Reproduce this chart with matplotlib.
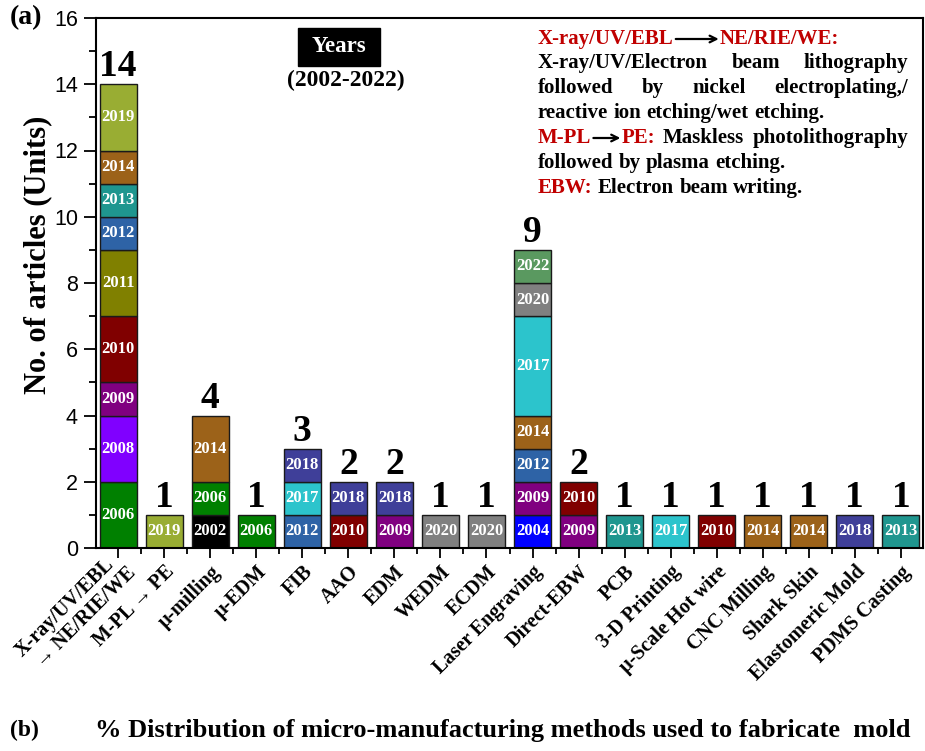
import numpy as np
import matplotlib
matplotlib.use("Agg")
import matplotlib.pyplot as plt
from matplotlib.patches import Rectangle
from matplotlib.ticker import MultipleLocator, FixedLocator

# categories (x axis)
methods = ["X-ray/UV/EBL\n\u2192 NE/RIE/WE", "M-PL \u2192 PE", "\u03bc-milling", "\u03bc-EDM",
           "FIB", "AAO", "EDM", "WEDM", "ECDM", "Laser Engraving", "Direct-EBW", "PCB",
           "3-D Printing", "\u03bc-Scale Hot wire", "CNC Milling", "Shark Skin",
           "Elastomeric Mold", "PDMS Casting"]

# stacked pieces: publication year and number of articles
seg_years = [
    ["2006", "2008", "2009", "2010", "2011", "2012", "2013", "2014", "2019"],
    ["2019"],
    ["2002", "2006", "2014"],
    ["2006"],
    ["2012", "2017", "2018"],
    ["2010", "2018"],
    ["2009", "2018"],
    ["2020"],
    ["2020"],
    ["2004", "2009", "2012", "2014", "2017", "2020", "2022"],
    ["2009", "2010"],
    ["2013"],
    ["2017"],
    ["2010"],
    ["2014"],
    ["2014"],
    ["2018"],
    ["2013"],
]
seg_counts = [
    [2, 2, 1, 2, 2, 1, 1, 1, 2],
    [1],
    [1, 1, 2],
    [1],
    [1, 1, 1],
    [1, 1],
    [1, 1],
    [1],
    [1],
    [1, 1, 1, 1, 3, 1, 1],
    [1, 1],
    [1], [1], [1], [1], [1], [1], [1],
]

year_colors = {
    "2002": "#000000", "2004": "#0000FF", "2006": "#008000", "2008": "#8000FF",
    "2009": "#800080", "2010": "#800000", "2011": "#808000", "2012": "#2E63A6",
    "2013": "#1F968F", "2014": "#9C6219", "2017": "#2CC4CC", "2018": "#3F3F99",
    "2019": "#99AD33", "2020": "#808080", "2022": "#5A9960",
}

SERIF = ["Liberation Serif", "DejaVu Serif"]
W, H = 925, 751

fig = plt.figure(figsize=(9.25, 7.51), dpi=100)
ax = fig.add_axes((96 / W, 1 - 548 / H, 827 / W, 530 / H))

x = np.arange(len(methods))
for i in range(len(methods)):
    bottom = 0
    for yr, c in zip(seg_years[i], seg_counts[i]):
        ax.bar(x[i], c, bottom=bottom, width=0.8, color=year_colors[yr],
               edgecolor="#1a1a1a", linewidth=1.0, zorder=2)
        ax.text(x[i], bottom + c / 2, yr, ha="center", va="center", color="white",
                fontsize=12, fontweight="bold", family=SERIF, zorder=3)
        bottom += c
    ax.annotate(str(bottom), (x[i], bottom), xytext=(0, 0), textcoords="offset points",
                ha="center", va="bottom", fontsize=27, fontweight="bold", family=SERIF)

ax.set_xlim(-0.48, len(methods) - 0.52)
ax.set_ylim(0, 16)
ax.yaxis.set_major_locator(MultipleLocator(2))
ax.yaxis.set_minor_locator(MultipleLocator(1))
ax.xaxis.set_major_locator(FixedLocator(x))
ax.xaxis.set_minor_locator(FixedLocator(x[:-1] + 0.5))
lab_style = dict(fontsize=14.5, fontweight="bold", family=SERIF)
# the two-line first label is drawn by hand below, line by line
ax.set_xticklabels([""] + methods[1:], rotation=45, ha="right", rotation_mode="anchor",
                   **lab_style)
for j, (line, off) in enumerate(zip(methods[0].split("\n"), [(-5, -10), (11, -16)])):
    ax.annotate(line, (x[0], 0), xycoords=("data", "axes fraction"), xytext=off,
                textcoords="offset points", rotation=45, rotation_mode="anchor",
                ha="right", va="center", annotation_clip=False, **lab_style)
for lab in ax.get_yticklabels():
    lab.set_family("Liberation Sans")
ax.tick_params(axis="y", which="major", length=9, width=1.3, labelsize=15.5, pad=4)
ax.tick_params(axis="y", which="minor", length=5, width=1.3)
ax.tick_params(axis="x", which="major", length=7, width=1.3, pad=3)
ax.tick_params(axis="x", which="minor", length=4, width=1.3)
for s in ax.spines.values():
    s.set_linewidth(1.5)
ax.set_ylabel("No. of articles (Units)", fontsize=22, fontweight="bold", family=SERIF)
ax.yaxis.set_label_coords(-0.053, 0.553)


def fx(px):
    return px / W


def fy(py):
    return 1 - py / H


# panel letters and bottom caption
fig.text(fx(10), fy(18), "(a)", fontsize=20, fontweight="bold", family=SERIF, va="center")
fig.text(fx(10), fy(730), "(b)", fontsize=17, fontweight="bold", family=SERIF, va="center")
fig.text(fx(95), fy(730), "% Distribution of micro-manufacturing methods used to fabricate  mold",
         fontsize=19, fontweight="bold", family=SERIF, va="center")

# "Years" box
fig.patches.append(Rectangle((fx(298), fy(66)), 82 / W, 38 / H, transform=fig.transFigure,
                             facecolor="black", edgecolor="black"))
fig.text(fx(339), fy(47), "Years", color="white", fontsize=16.5, fontweight="bold",
         family=SERIF, ha="center", va="center")
fig.text(fx(346), fy(80), "(2002-2022)", fontsize=17, fontweight="bold",
         family=SERIF, ha="center", va="center")

# abbreviations note, justified by hand
RED = "#C00000"
note_fs = 15
renderer = fig.canvas.get_renderer()


def measure(t):
    return t.get_window_extent(renderer).width


def place_line(groups, y, x0=538, x1=908, justify=False):
    # groups: list of groups separated by stretchable spaces;
    # each group is a list of (text, color) or ("ARROW", width_px)
    made = []
    widths = []
    for g in groups:
        items = []
        gw = 0
        for item in g:
            if item[0] == "ARROW":
                items.append(("arrow", item[1], None))
                gw += item[1]
            else:
                t = fig.text(0, fy(y), item[0], color=item[1], fontsize=note_fs,
                             fontweight="bold", family=SERIF, ha="left", va="center")
                w = measure(t)
                items.append(("text", w, t))
                gw += w
        made.append(items)
        widths.append(gw)
    probe = fig.text(0, 0, "a a", fontsize=note_fs, fontweight="bold", family=SERIF)
    probe2 = fig.text(0, 0, "aa", fontsize=note_fs, fontweight="bold", family=SERIF)
    space = measure(probe) - measure(probe2)
    probe.remove()
    probe2.remove()
    if justify and len(groups) > 1:
        gap = (x1 - x0 - sum(widths)) / (len(groups) - 1)
    else:
        gap = space
    cx = x0
    for items in made:
        for kind, w, t in items:
            if kind == "text":
                t.set_x(fx(cx))
            else:
                ax.annotate("", xy=(cx + w - 1, H - y), xytext=(cx + 2, H - y),
                            xycoords="figure pixels", textcoords="figure pixels",
                            arrowprops=dict(arrowstyle="->", lw=1.6, color="black",
                                            mutation_scale=12, shrinkA=0, shrinkB=0))
            cx += w
        cx += gap


place_line([[("X-ray/UV/EBL", RED), ("ARROW", 46), ("NE/RIE/WE:", RED)]], 39)
place_line([[(w, "black")] for w in "X-ray/UV/Electron beam lithography".split()], 63, justify=True)
place_line([[(w, "black")] for w in "followed by nickel electroplating,/".split()], 88, justify=True)
place_line([[(w, "black")] for w in "reactive ion etching/wet etching.".split()], 113)
place_line([[("M-PL", RED), ("ARROW", 30), ("PE:", RED)]] +
           [[(w, "black")] for w in "Maskless photolithography".split()], 138, justify=True)
place_line([[(w, "black")] for w in "followed by plasma etching.".split()], 163)
place_line([[("EBW:", RED)]] + [[(w, "black")] for w in "Electron beam writing.".split()], 188)

fig.savefig("out.png", dpi=100)
